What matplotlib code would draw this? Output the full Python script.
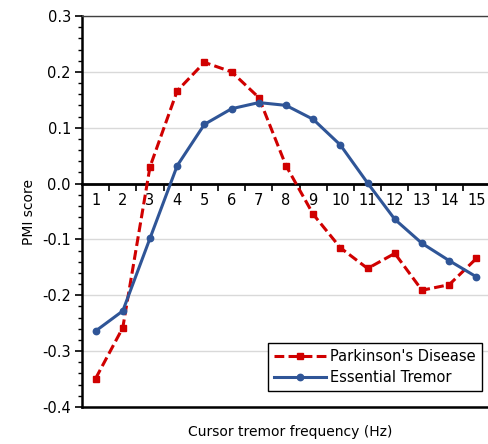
import matplotlib
matplotlib.use("Agg")
import matplotlib.pyplot as plt
from matplotlib.ticker import MultipleLocator, FixedLocator, NullFormatter
import numpy as np

freqs = list(range(1, 16))
parkinsons = [-0.349, -0.258, 0.030, 0.166, 0.217, 0.200, 0.154, 0.032,
              -0.055, -0.115, -0.152, -0.125, -0.191, -0.181, -0.134]
essential = [-0.264, -0.228, -0.098, 0.032, 0.106, 0.134, 0.145, 0.140,
             0.115, 0.069, 0.001, -0.064, -0.107, -0.138, -0.167]
y_ticks = [0.3, 0.2, 0.1, 0.0, -0.1, -0.2, -0.3, -0.4]

plt.rcParams['font.family'] = ['DejaVu Sans']

fig = plt.figure(figsize=(4.89, 4.44), dpi=100)
ax = fig.add_axes([82/489, 37/444, 408/489, 391/444])

red = '#D00000'
blue = '#2F5597'

ax.plot(freqs, parkinsons, color=red, lw=2.2, dashes=(3.2, 1.4),
        marker='s', ms=4.6, mfc=red, mec=red, label="Parkinson's Disease", zorder=4)
ax.plot(freqs, essential, color=blue, lw=2.2, marker='o', ms=4.6,
        mfc=blue, mec=blue, label='Essential Tremor', zorder=5)

ax.set_xlim(0.5, 15.5)
ax.set_ylim(-0.4, 0.3)

# y axis
ax.set_yticks(y_ticks)
ax.set_yticklabels([f"{v:.1f}" for v in y_ticks], fontsize=10.5)
ax.yaxis.set_minor_locator(MultipleLocator(0.02))
ax.tick_params(axis='y', which='major', direction='out', length=5, width=1.2, pad=3)
ax.tick_params(axis='y', which='minor', direction='out', length=3, width=1)
ax.grid(axis='y', which='major', color='#D9D9D9', lw=1, zorder=0)

# x axis at y=0
ax.spines['bottom'].set_position(('data', 0))
ax.spines['bottom'].set_linewidth(2)
ax.set_xticks(freqs)
ax.set_xticklabels([str(f) for f in freqs], fontsize=10.5)
ax.xaxis.set_minor_locator(FixedLocator(np.arange(1.5, 15.5, 1.0)))
ax.xaxis.set_minor_formatter(NullFormatter())
ax.tick_params(axis='x', which='major', length=0, pad=7)
ax.tick_params(axis='x', which='minor', direction='out', length=5, width=1.2)

ax.spines['left'].set_linewidth(1.8)
ax.spines['top'].set_linewidth(1)
ax.spines['top'].set_color('#404040')
ax.spines['right'].set_visible(False)
ax.axhline(-0.4, color='black', lw=1.8, clip_on=False, zorder=6)

ax.set_ylabel('PMI score', fontsize=10)
fig.text(290/489, 1 - 432/444, 'Cursor tremor frequency (Hz)', ha='center', va='center', fontsize=10)

leg = ax.legend(loc='lower right', bbox_to_anchor=(0.998, 0.022), fontsize=10.5,
                frameon=True, fancybox=False, edgecolor='black', framealpha=1,
                handlelength=3.6, borderpad=0.4, labelspacing=0.45, handletextpad=0.3)
leg.get_frame().set_linewidth(1)

fig.savefig('out.png', dpi=100)
